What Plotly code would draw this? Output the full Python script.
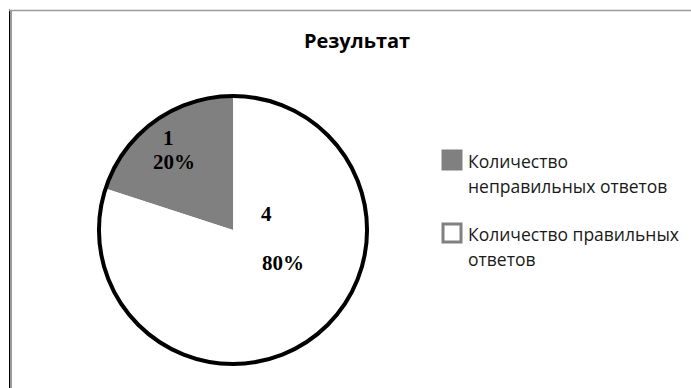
import plotly.graph_objects as go

# Test results: wrong vs. correct answers
categories = ["Количество неправильных ответов", "Количество правильных ответов"]
legend_lines = [["Количество", "неправильных ответов"], ["Количество правильных", "ответов"]]
values = [1, 4]
colors = ["#808080", "#ffffff"]
title_text = "Результат"

W, H = 691, 388


def px(x):
    return x / W


def py(y):
    return 1 - y / H


total = sum(values)
value_text = [str(v) for v in values]
percent_text = [f"{round(100 * v / total)}%" for v in values]

fig = go.Figure()

# Main pie
fig.add_trace(go.Pie(
    labels=categories,
    values=values,
    sort=False,
    direction="clockwise",
    rotation=-72,
    marker=dict(colors=colors, line=dict(width=0)),
    textinfo="none",
    showlegend=False,
    domain=dict(x=[px(98), px(368)], y=[py(367), py(93)]),
    hoverinfo="label+value+percent",
))

# Thick black outer ring drawn as a single full-circle slice
fig.add_trace(go.Pie(
    values=[total],
    labels=["total"],
    sort=False,
    marker=dict(colors=["rgba(0,0,0,0)"], line=dict(color="#000000", width=4)),
    textinfo="none",
    showlegend=False,
    hoverinfo="skip",
    domain=dict(x=[px(99), px(367)], y=[py(366), py(94)]),
))

# Slice labels: value on top, percentage below
label_font = dict(family="Liberation Serif", size=21, color="#000000", weight="bold")
label_pos = [((168, 138), (174, 162)), ((266, 214), (283, 263))]
for i in range(len(values)):
    (vx, vy), (qx, qy) = label_pos[i]
    fig.add_annotation(x=px(vx), y=py(vy), xref="paper", yref="paper",
                       text=value_text[i], showarrow=False, font=label_font,
                       xanchor="center", yanchor="middle")
    fig.add_annotation(x=px(qx), y=py(qy), xref="paper", yref="paper",
                       text=percent_text[i], showarrow=False, font=label_font,
                       xanchor="center", yanchor="middle")

# Legend: swatch plus two text lines per category
legend_font = dict(family="Open Sans", size=17.5, color="#1a1a1a")
legend_top = [150, 223]
line_gap = 25
for i, lines in enumerate(legend_lines):
    top = legend_top[i]
    fig.add_shape(type="rect", xref="paper", yref="paper",
                  x0=px(443), x1=px(461), y0=py(top + 19), y1=py(top + 1),
                  fillcolor=colors[i], line=dict(color="#808080", width=3))
    for j, line in enumerate(lines):
        fig.add_annotation(x=px(466), y=py(top + 11 + j * line_gap), xref="paper", yref="paper",
                           text=line, showarrow=False, font=legend_font,
                           xanchor="left", yanchor="middle")

# Chart-area frame on the left and top edges
fig.add_shape(type="line", xref="paper", yref="paper",
              x0=px(9.5), x1=px(9.5), y0=0, y1=py(9.5),
              line=dict(color="#000000", width=1))
fig.add_shape(type="line", xref="paper", yref="paper",
              x0=px(11), x1=px(11), y0=0, y1=py(10),
              line=dict(color="#9a9a9a", width=2))
fig.add_shape(type="line", xref="paper", yref="paper",
              x0=px(9), x1=1, y0=py(10.5), y1=py(10.5),
              line=dict(color="#9a9a9a", width=1.5))

fig.update_layout(
    width=W, height=H,
    margin=dict(l=0, r=0, t=0, b=0),
    paper_bgcolor="#ffffff",
    plot_bgcolor="#ffffff",
    showlegend=False,
    title=dict(text=title_text, x=px(357), xanchor="center", y=py(41), yanchor="middle",
               xref="container", yref="container",
               font=dict(family="Open Sans", size=20, color="#000000", weight="bold")),
)

fig.write_html("out.html")
